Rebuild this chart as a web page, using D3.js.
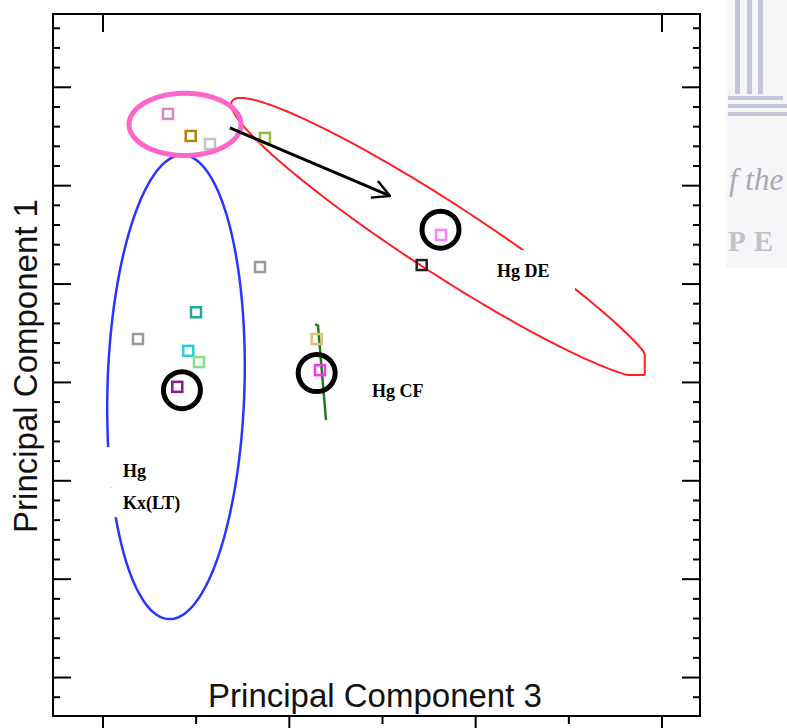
<!DOCTYPE html>
<html>
<head>
<meta charset="utf-8">
<script src="https://cdnjs.cloudflare.com/ajax/libs/d3/7.8.5/d3.min.js"></script>
<style>
  body { margin: 0; background: #fff; }
  svg { display: block; }
  .tick line { stroke: #000; stroke-width: 2; }
</style>
</head>
<body>
<div class="chart"></div>
<script>
var svgWidth = 787;
var svgHeight = 728;

var frame = { left: 53, right: 700, top: 14, bottom: 716 };

//-------- Data (PC3 on x, PC1 on y) -------------------------
var sampleX = [0.703, 0.947, 1.154, 1.744, 1.691, 1.004, 0.381, 0.921, 1.036, 0.803, 2.299, 2.334, 3.426, 3.633];
var sampleY = [28.62, 27.50, 27.09, 27.40, 20.84, 18.54, 17.18, 16.58, 16.01, 14.75, 17.18, 15.60, 20.94, 22.47];
var sampleColors = ["#d98ab9", "#b5820f", "#c4c4c4", "#99b833", "#999999", "#1fa89c", "#9a9a9a",
  "#2ccfd0", "#7fe08a", "#8b1a8b", "#dcc07e", "#ff30ff", "#222222", "#ff80ff"];

// highlighted samples (black rings)
var ringX = [0.853, 2.299, 3.628];
var ringY = [14.58, 15.45, 22.74];

// group ellipses: centre, half axes (data units), tilt in degrees
var kxEllipse = { cx: 0.789, cy: 14.74, rx: 0.735, ry: 11.80, angle: 1.7 };
var deEllipse = { cx: 3.655, cy: 22.31, rx: 2.70, ry: 1.78, angle: 33, maxX: 5.82, minY: 15.35 };
var topEllipse = { cx: 0.886, cy: 28.09, rx: 0.601, ry: 1.58, angle: 0 };

// Hg CF line
var cfLineX = [2.283, 2.313, 2.399];
var cfLineY = [17.92, 17.86, 13.06];

// arrow from the circled cluster towards Hg DE
var arrowX = [1.368, 3.086];
var arrowY = [27.91, 24.45];

// group labels
var labelText = ["Hg DE", "Hg CF", "Hg", "Kx(LT)"];
var labelX = [4.234, 2.893, 0.220, 0.220];
var labelY = [20.33, 14.23, 10.16, 8.53];

var xMajor = [0, 2, 4, 6];
var xMinor = [1, 3, 5];
var xTop = [0, 6];
var yAll = d3.range(-1, 34);
var yMajor = yAll.filter(d => d % 5 === 0);
var yMinor = yAll.filter(d => d % 5 !== 0);

//-------- Scales --------------------------------------
var x = d3.scaleLinear().domain([-0.531, 6.413]).range([frame.left, frame.right]);
var y = d3.scaleLinear().domain([-1.98, 33.7]).range([frame.bottom, frame.top]);

var svg = d3.select(".chart")
  .append("svg")
  .attr("width", svgWidth)
  .attr("height", svgHeight);

var defs = svg.append("defs");

//-------- Watermark at right -------------------------
var wm = svg.append("g");
wm.append("rect").attr("x", 726).attr("y", 0).attr("width", 61).attr("height", 268).attr("fill", "#f6f6f8");
[735, 747, 758].forEach(function(cx) {
  wm.append("rect").attr("x", cx).attr("y", 0).attr("width", 5).attr("height", 94).attr("fill", "#c3c6d6");
});
[[96, 55], [104, 60], [112, 59]].forEach(function(s) {
  wm.append("rect").attr("x", 728).attr("y", s[0]).attr("width", s[1]).attr("height", 4).attr("fill", "#c3c6d6");
});
wm.append("text").attr("x", 729).attr("y", 190)
  .style("font-family", "Liberation Serif").style("font-style", "italic").style("font-size", "31px")
  .attr("fill", "#a8a8b0").text("f the");
wm.append("text").attr("x", 728).attr("y", 251)
  .style("font-family", "Liberation Serif").style("font-weight", "bold").style("font-size", "29px")
  .style("letter-spacing", "8px").attr("fill", "#c0c0c8").text("PE");

//-------- Ellipse helper -------------------------------
function ellipsePoints(e) {
  var cx = x(e.cx), cy = y(e.cy);
  var rx = e.rx * (x(1) - x(0)), ry = e.ry * (y(0) - y(1));
  var a = e.angle * Math.PI / 180;
  var xMax = e.maxX !== undefined ? x(e.maxX) : Infinity;
  var yMax = e.minY !== undefined ? y(e.minY) : Infinity;
  return d3.range(0, 361, 2).map(function(t) {
    var r = t * Math.PI / 180;
    var px = rx * Math.cos(r), py = ry * Math.sin(r);
    return [Math.min(xMax, cx + px * Math.cos(a) - py * Math.sin(a)),
      Math.min(yMax, cy + px * Math.sin(a) + py * Math.cos(a))];
  });
}
var line = d3.line();

// blue Kx(LT) ellipse
svg.append("path")
  .attr("d", line(ellipsePoints(kxEllipse)))
  .attr("fill", "none")
  .attr("stroke", "#2a35ff")
  .attr("stroke-width", 2.5);

// red DE ellipse, flattened at its right end
svg.append("path")
  .attr("d", line(ellipsePoints(deEllipse)))
  .attr("fill", "none")
  .attr("stroke", "#ff2020")
  .attr("stroke-width", 2);

// Hg CF green line
svg.append("path")
  .attr("d", line(cfLineX.map((d, i) => [x(d), y(cfLineY[i])])))
  .attr("fill", "none")
  .attr("stroke", "#1f7a1f")
  .attr("stroke-width", 2.5);

//-------- Labels (white boxes hide the contours behind them) ----
var labelBoxes = [[-12, -27, 90, 45], null, [-22, -30, 100, 40], [-22, -22, 100, 30]];
labelText.forEach(function(t, i) {
  if (labelBoxes[i]) {
    svg.append("rect")
      .attr("x", x(labelX[i]) + labelBoxes[i][0])
      .attr("y", y(labelY[i]) + labelBoxes[i][1])
      .attr("width", labelBoxes[i][2])
      .attr("height", labelBoxes[i][3])
      .attr("fill", "#fff");
  }
});
svg.selectAll(".glabel")
  .data(labelText)
  .enter()
  .append("text")
  .attr("class", "glabel")
  .attr("x", (d, i) => x(labelX[i]))
  .attr("y", (d, i) => y(labelY[i]))
  .style("font-family", "Liberation Serif")
  .style("font-weight", "bold")
  .style("font-size", "18px")
  .attr("fill", "#000")
  .text(d => d);

//-------- Sample markers --------------------------------
var sq = 10;
svg.selectAll(".sample")
  .data(sampleX)
  .enter()
  .append("rect")
  .attr("class", "sample")
  .attr("x", d => x(d) - sq / 2)
  .attr("y", (d, i) => y(sampleY[i]) - sq / 2)
  .attr("width", sq)
  .attr("height", sq)
  .attr("fill", "none")
  .attr("stroke", (d, i) => sampleColors[i])
  .attr("stroke-width", 2.5);

// pink ring round the top cluster
svg.append("path")
  .attr("d", line(ellipsePoints(topEllipse)))
  .attr("fill", "none")
  .attr("stroke", "#ff66cc")
  .attr("stroke-width", 5);

// black rings
svg.selectAll(".ring")
  .data(ringX)
  .enter()
  .append("circle")
  .attr("class", "ring")
  .attr("cx", d => x(d))
  .attr("cy", (d, i) => y(ringY[i]))
  .attr("r", 18.5)
  .attr("fill", "none")
  .attr("stroke", "#000")
  .attr("stroke-width", 5);

// arrow
defs.append("marker")
  .attr("id", "arrowHead")
  .attr("markerUnits", "userSpaceOnUse")
  .attr("viewBox", "0 0 20 20")
  .attr("refX", 19).attr("refY", 10)
  .attr("markerWidth", 20).attr("markerHeight", 20)
  .attr("orient", "auto")
  .append("path")
  .attr("d", "M2,1 L19,10 L2,19")
  .attr("fill", "none")
  .attr("stroke", "#000")
  .attr("stroke-width", 2.5);
svg.append("line")
  .attr("x1", x(arrowX[0])).attr("y1", y(arrowY[0]))
  .attr("x2", x(arrowX[1])).attr("y2", y(arrowY[1]))
  .attr("stroke", "#000")
  .attr("stroke-width", 3)
  .attr("marker-end", "url(#arrowHead)");

//-------- Axes ----------------------------------------
function tickAxis(axis, values, size) {
  return axis.tickValues(values).tickSize(size).tickFormat("");
}
svg.append("g").attr("transform", `translate(0, ${frame.bottom})`)
  .call(tickAxis(d3.axisBottom(x), xMajor, 16));
svg.append("g").attr("transform", `translate(0, ${frame.bottom})`)
  .call(tickAxis(d3.axisBottom(x), xMinor, 8));
svg.append("g").attr("transform", `translate(0, ${frame.top})`)
  .call(tickAxis(d3.axisBottom(x), xTop, 18));
svg.append("g").attr("transform", `translate(${frame.left}, 0)`)
  .call(tickAxis(d3.axisRight(y), yMajor, 18));
svg.append("g").attr("transform", `translate(${frame.left}, 0)`)
  .call(tickAxis(d3.axisRight(y), yMinor, 7));
svg.append("g").attr("transform", `translate(${frame.right}, 0)`)
  .call(tickAxis(d3.axisLeft(y), yMajor, 18));
svg.append("g").attr("transform", `translate(${frame.right}, 0)`)
  .call(tickAxis(d3.axisLeft(y), yMinor, 7));
svg.selectAll(".domain").remove();

svg.append("rect")
  .attr("x", frame.left).attr("y", frame.top)
  .attr("width", frame.right - frame.left)
  .attr("height", frame.bottom - frame.top)
  .attr("fill", "none")
  .attr("stroke", "#000")
  .attr("stroke-width", 2);

//-------- Axis titles ---------------------------------
svg.append("text")
  .attr("x", 375)
  .attr("y", 707)
  .attr("text-anchor", "middle")
  .style("font-family", "Liberation Sans")
  .style("font-size", "33px")
  .attr("fill", "#111")
  .text("Principal Component 3");

svg.append("text")
  .attr("transform", "translate(37, 366) rotate(-90)")
  .attr("text-anchor", "middle")
  .style("font-family", "Liberation Sans")
  .style("font-size", "33px")
  .attr("fill", "#111")
  .text("Principal Component 1");
</script>
</body>
</html>
